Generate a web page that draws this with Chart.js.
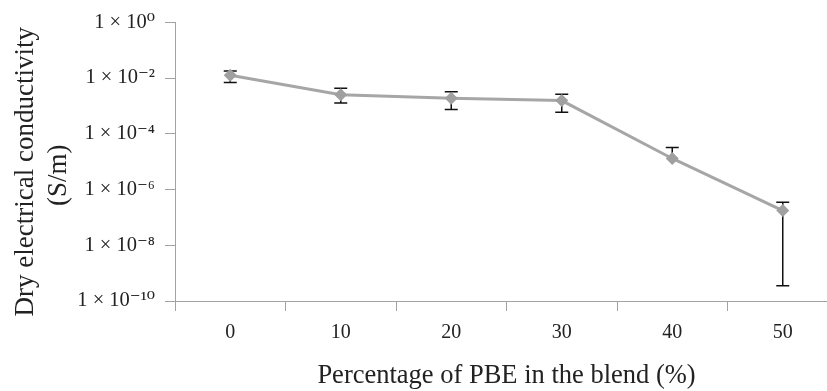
<!DOCTYPE html>
<html>
<head>
<meta charset="utf-8">
<script src="https://cdn.jsdelivr.net/npm/chart.js@4.4.1/dist/chart.umd.min.js"></script>
<style>
  html, body { margin: 0; padding: 0; background: #fff; overflow: hidden; width: 827px; height: 391px; }
  canvas { display: block; }
</style>
</head>
<body>
<canvas id="conductivityChart" width="846" height="391"></canvas>
<script>
const categories = ['0', '10', '20', '30', '40', '50'];
const conductivity = [1.26e-2, 2.5e-3, 1.9e-3, 1.55e-3, 1.3e-5, 1.75e-7];
const errorHigh = [1.8e-2, 4.3e-3, 3.2e-3, 2.6e-3, 3.2e-5, 3.5e-7];
const errorLow = [6.9e-3, 1.26e-3, 7.4e-4, 5.9e-4, null, 3.5e-10];
const yTickValues = [1e-10, 1e-8, 1e-6, 1e-4, 1e-2, 1];
const yTickLabels = ['1 × 10⁻¹⁰', '1 × 10⁻⁸', '1 × 10⁻⁶', '1 × 10⁻⁴', '1 × 10⁻²', '1 × 10⁰'];

const serif = '"Liberation Serif", "DejaVu Serif", serif';
const axisGray = '#a3a3a3';
const textColor = '#222';

// error bars go under the line and markers
const errorBars = {
  id: 'errorBars',
  beforeDatasetsDraw(chart) {
    const { ctx, scales: { x, y } } = chart;
    ctx.save();
    ctx.strokeStyle = '#111';
    ctx.lineWidth = 1.5;
    conductivity.forEach((v, i) => {
      const px = x.getPixelForValue(i);
      const top = y.getPixelForValue(errorHigh[i]);
      const bottom = y.getPixelForValue(errorLow[i] != null ? errorLow[i] : v);
      ctx.beginPath();
      ctx.moveTo(px, top);
      ctx.lineTo(px, bottom);
      ctx.moveTo(px - 6.5, top);
      ctx.lineTo(px + 6.5, top);
      if (errorLow[i] != null) {
        ctx.moveTo(px - 6.5, bottom);
        ctx.lineTo(px + 6.5, bottom);
      }
      ctx.stroke();
    });
    ctx.restore();
  }
};

const ctx = document.getElementById('conductivityChart').getContext('2d');
const chart = new Chart(ctx, {
  type: 'line',
  data: {
    labels: categories,
    datasets: [{
      label: 'Dry electrical conductivity',
      data: conductivity,
      borderColor: '#a6a6a6',
      backgroundColor: '#a0a0a0',
      borderWidth: 3,
      tension: 0,
      fill: false,
      pointStyle: 'rectRot',
      pointRadius: 6.5,
      pointBorderWidth: 0,
      pointBackgroundColor: '#a0a0a0'
    }]
  },
  options: {
    responsive: false,
    animation: false,
    layout: { padding: { left: 10, top: 19, right: 8, bottom: 0 } },
    plugins: {
      legend: { display: false },
      tooltip: { enabled: false }
    },
    scales: {
      x: {
        type: 'category',
        offset: true,
        grid: { offset: true, drawOnChartArea: false, tickLength: 10, color: axisGray },
        border: { color: axisGray, width: 1 },
        ticks: { color: textColor, padding: 10, font: { family: serif, size: 20 } },
        title: {
          display: true,
          text: 'Percentage of PBE in the blend (%)',
          color: textColor,
          font: { family: serif, size: 26.5, lineHeight: 1.1 },
          padding: { top: 0, bottom: 0 }
        },
        afterFit(scale) { scale.height = 90; }
      },
      y: {
        type: 'logarithmic',
        min: 1e-10,
        max: 1,
        afterBuildTicks(scale) {
          scale.ticks = yTickValues.map(v => ({ value: v }));
        },
        grid: { drawOnChartArea: false, tickLength: 10, color: axisGray },
        border: { color: axisGray, width: 1 },
        ticks: {
          color: textColor,
          padding: 10,
          font: { family: serif, size: 20.5 },
          callback: (value, index) => yTickLabels[index]
        },
        title: {
          display: true,
          text: ['Dry electrical conductivity\u00a0\u00a0\u00a0', '(S/m)\u00a0\u00a0\u00a0\u00a0'],
          color: textColor,
          font: { family: serif, size: 27, lineHeight: 1.2 },
          padding: { top: 0, bottom: 0 }
        },
        afterFit(scale) { scale.width = 165; }
      }
    }
  },
  plugins: [errorBars]
});
</script>
</body>
</html>
